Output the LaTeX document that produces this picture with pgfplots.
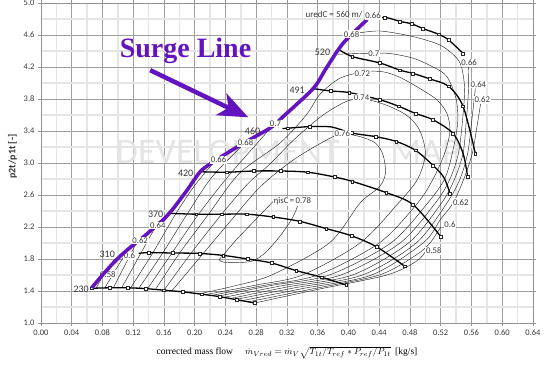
\documentclass[border=0pt]{standalone}
\usepackage{fontspec}
\setmainfont{Carlito}
\newfontfamily\serif{Liberation Serif}
\usepackage{pgfplots}
\pgfplotsset{compat=1.18}
\usetikzlibrary{arrows.meta}
\definecolor{surge}{RGB}{100,20,190}
\definecolor{wm}{RGB}{228,228,228}
\definecolor{txt}{RGB}{55,55,55}
\pgfplotsset{
  contour/.style={black!85, line width=0.45pt, smooth, no marks},
  speed/.style={black, line width=1.3pt, smooth, no marks},
  spm/.style={only marks, mark=square*, mark size=1.4pt, mark options={fill=white, draw=black!85, line width=0.5pt}},
}
\tikzset{
  el/.style={fill=white, inner sep=0.8pt, font=\fontsize{8.7}{9.5}\selectfont, text=txt},
  sl/.style={inner sep=0.5pt, font=\fontsize{10}{11}\selectfont, text=txt},
}
\begin{document}
\begin{tikzpicture}
\begin{axis}[name=ax, scale only axis, width=492pt, height=320pt,
  xmin=0, xmax=0.64, ymin=1, ymax=5,
  xtick={0,0.04,0.08,0.12,0.16,0.20,0.24,0.28,0.32,0.36,0.40,0.44,0.48,0.52,0.56,0.60,0.64},
  ytick={1.0,1.4,1.8,2.2,2.6,3.0,3.4,3.8,4.2,4.6,5.0},
  minor xtick={0.02,0.06,0.10,0.14,0.18,0.22,0.26,0.30,0.34,0.38,0.42,0.46,0.50,0.54,0.58,0.62},
  minor ytick={1.2,1.6,2.0,2.4,2.8,3.2,3.6,4.0,4.4,4.8},
  grid=both,
  major grid style={draw=gray!75, line width=0.6pt},
  minor grid style={draw=gray!20, line width=1.4pt},
  axis line style={draw=gray!85, line width=0.8pt},
  tick style={draw=gray!85, line width=0.6pt},
  tick align=outside, major tick length=3pt, minor tick length=0pt,
  /pgf/number format/assume math mode=true,
  xticklabel style={/pgf/number format/.cd, fixed, fixed zerofill, precision=2, /tikz/.cd, font=\fontsize{8.5}{10}\selectfont, text=txt},
  yticklabel style={/pgf/number format/.cd, fixed, fixed zerofill, precision=1, /tikz/.cd, font=\fontsize{8.5}{10}\selectfont, text=txt},
  xlabel={{\serif corrected mass flow}\hspace{12pt}$\dot{m}_{Vred}=\dot{m}_{V}\sqrt{T_{1t}/T_{ref}\ast P_{ref}/P_{1t}}$\ \ {\serif[kg/s]}},
  xlabel style={font=\fontsize{9.5}{11}\selectfont, text=black, yshift=-4pt},
  ylabel={\bfseries p2t/p1t [-]},
  ylabel style={font=\fontsize{10}{11}\selectfont, text=txt, at={(ticklabel cs:0.52)}},
  clip mode=individual,
]
% watermark
\node[text=wm, font=\fontsize{36}{36}\selectfont, inner sep=0pt] at (axis cs:0.243,3.14) {DEVELOPMENT};
\node[text=wm, font=\fontsize{36}{36}\selectfont, inner sep=0pt] at (axis cs:0.50,3.14) {MAP};

% efficiency contours
\addplot[contour] coordinates {(0.072,1.44) (0.077,1.53) (0.082,1.62)};
\addplot[contour] coordinates {(0.278,1.25) (0.36,1.42) (0.45,1.6) (0.488,1.77) (0.50,1.89)};
\addplot[contour] coordinates {(0.083,1.44) (0.095,1.63) (0.107,1.82) (0.110,1.86)};
\addplot[contour] coordinates {(0.27,1.265) (0.35,1.42) (0.44,1.6) (0.488,1.85) (0.506,2.0) (0.52,2.2)};
\addplot[contour] coordinates {(0.094,1.44) (0.108,1.7) (0.124,2.0)};
\addplot[contour] coordinates {(0.262,1.28) (0.34,1.43) (0.43,1.6) (0.497,2.0) (0.52,2.3) (0.536,2.5) (0.55,2.8) (0.561,3.12) (0.567,3.45) (0.572,3.75)};
\addplot[contour] coordinates {(0.105,1.44) (0.128,1.84) (0.15,2.22)};
\addplot[contour] coordinates {(0.254,1.295) (0.33,1.44) (0.418,1.6) (0.488,2.0) (0.528,2.5) (0.545,2.8) (0.555,3.12) (0.56,3.5) (0.565,3.93)};
\addplot[contour] coordinates {(0.116,1.43) (0.145,1.87) (0.175,2.36) (0.2,2.72) (0.226,3.02)};
\addplot[contour] coordinates {(0.246,1.305) (0.32,1.45) (0.405,1.6) (0.478,2.0) (0.521,2.5) (0.538,2.8) (0.549,3.12) (0.553,3.5) (0.556,3.9) (0.556,4.2)};
\addplot[contour] coordinates {(0.127,1.43) (0.158,1.87) (0.19,2.36) (0.222,2.82) (0.262,3.22)};
\addplot[contour] coordinates {(0.238,1.32) (0.31,1.46) (0.39,1.6) (0.467,2.0) (0.513,2.5) (0.532,2.8) (0.543,3.12) (0.548,3.5) (0.551,3.92) (0.547,4.2) (0.539,4.33) (0.519,4.475) (0.484,4.58) (0.441,4.65) (0.41,4.62)};
\addplot[contour] coordinates {(0.138,1.42) (0.17,1.87) (0.205,2.36) (0.245,2.85) (0.30,3.45)};
\addplot[contour] coordinates {(0.23,1.335) (0.30,1.47) (0.375,1.6) (0.455,2.0) (0.503,2.5) (0.525,2.8) (0.535,3.12) (0.542,3.5) (0.54,3.8) (0.528,4.08) (0.51,4.2) (0.484,4.31) (0.452,4.37) (0.42,4.37) (0.386,4.36)};
\addplot[contour] coordinates {(0.149,1.42) (0.18,1.87) (0.218,2.36) (0.258,2.87) (0.311,3.25) (0.345,3.6) (0.363,3.86) (0.389,4.06) (0.42,4.14) (0.445,4.14) (0.467,4.07) (0.493,3.93) (0.515,3.79) (0.528,3.62) (0.532,3.4) (0.525,3.12) (0.51,2.8) (0.49,2.5) (0.44,2.0) (0.36,1.6) (0.29,1.47) (0.222,1.345)};
\addplot[contour] coordinates {(0.16,1.41) (0.195,1.87) (0.235,2.36) (0.27,2.75) (0.297,2.98) (0.33,3.3) (0.367,3.6) (0.40,3.78) (0.425,3.79) (0.45,3.72) (0.475,3.6) (0.492,3.42) (0.50,3.12) (0.49,2.8) (0.465,2.5) (0.415,2.0) (0.34,1.6) (0.28,1.475) (0.214,1.355)};
\addplot[contour] coordinates {(0.17,1.40) (0.205,1.80) (0.24,2.2) (0.285,2.70) (0.33,3.05) (0.378,3.32) (0.395,3.36) (0.415,3.33) (0.435,3.25) (0.445,3.1) (0.448,2.87) (0.44,2.7) (0.415,2.5) (0.375,2.0) (0.30,1.6) (0.25,1.46) (0.206,1.365)};
\addplot[contour] coordinates {(0.302,2.52) (0.28,2.3) (0.255,2.05) (0.238,1.86) (0.232,1.79) (0.238,1.76) (0.255,1.755) (0.275,1.775) (0.292,1.88) (0.312,2.1) (0.328,2.33) (0.336,2.52)};

% labels under speed lines
\node[el] at (axis cs:0.087,1.61) {0.58};
\node[el] at (axis cs:0.115,1.84) {0.6};
\node[el] at (axis cs:0.511,1.90) {0.58};
\node[el] at (axis cs:0.532,2.23) {0.6};
\node[el] at (axis cs:0.546,2.51) {0.62};
\node[el] at (axis cs:0.557,4.25) {0.66};
\node[el] at (axis cs:0.569,3.98) {0.64};
\node[el] at (axis cs:0.574,3.79) {0.62};
\node[el] at (axis cs:0.418,4.12) {0.72};

% speed lines
\addplot[speed] coordinates {(0.066,1.434) (0.089,1.44) (0.113,1.44) (0.136,1.43) (0.160,1.41) (0.184,1.39) (0.209,1.36) (0.232,1.33) (0.255,1.29) (0.278,1.25)};
\addplot[spm] coordinates {(0.066,1.434) (0.089,1.44) (0.113,1.44) (0.136,1.43) (0.160,1.41) (0.184,1.39) (0.209,1.36) (0.232,1.33) (0.255,1.29) (0.278,1.25)};
\addplot[speed] coordinates {(0.127,1.87) (0.140,1.88) (0.171,1.875) (0.206,1.87) (0.237,1.845) (0.269,1.80) (0.300,1.75) (0.332,1.655) (0.365,1.572) (0.397,1.475)};
\addplot[spm] coordinates {(0.140,1.88) (0.171,1.875) (0.206,1.87) (0.237,1.845) (0.269,1.80) (0.300,1.75) (0.332,1.655) (0.365,1.572) (0.397,1.475)};
\addplot[speed] coordinates {(0.168,2.37) (0.202,2.36) (0.235,2.36) (0.268,2.36) (0.302,2.325) (0.337,2.27) (0.371,2.18) (0.404,2.09) (0.437,1.95) (0.473,1.71)};
\addplot[spm] coordinates {(0.202,2.36) (0.235,2.36) (0.268,2.36) (0.302,2.325) (0.337,2.27) (0.371,2.18) (0.404,2.09) (0.437,1.95) (0.473,1.71)};
\addplot[speed] coordinates {(0.209,2.89) (0.242,2.885) (0.277,2.90) (0.312,2.90) (0.347,2.885) (0.382,2.825) (0.405,2.77) (0.449,2.63) (0.484,2.48) (0.52,2.08)};
\addplot[spm] coordinates {(0.242,2.885) (0.277,2.90) (0.312,2.90) (0.347,2.885) (0.382,2.825) (0.405,2.77) (0.449,2.63) (0.484,2.48) (0.52,2.08)};
\addplot[speed] coordinates {(0.314,3.43) (0.321,3.435) (0.350,3.455) (0.378,3.45) (0.404,3.375) (0.435,3.33) (0.462,3.27) (0.487,3.16) (0.51,2.97) (0.524,2.82) (0.532,2.62)};
\addplot[spm] coordinates {(0.321,3.435) (0.350,3.455) (0.404,3.375) (0.435,3.33) (0.462,3.27) (0.487,3.16) (0.51,2.97) (0.532,2.62)};
\addplot[speed] coordinates {(0.354,3.93) (0.377,3.90) (0.401,3.88) (0.441,3.79) (0.465,3.71) (0.487,3.62) (0.51,3.54) (0.536,3.37) (0.549,3.12) (0.555,2.83)};
\addplot[spm] coordinates {(0.377,3.90) (0.401,3.88) (0.441,3.79) (0.465,3.71) (0.487,3.62) (0.51,3.54) (0.536,3.37) (0.555,2.83)};
\addplot[speed] coordinates {(0.387,4.42) (0.405,4.33) (0.441,4.25) (0.467,4.16) (0.484,4.12) (0.506,4.05) (0.53,3.96) (0.549,3.71) (0.565,3.12)};
\addplot[spm] coordinates {(0.405,4.33) (0.441,4.25) (0.467,4.16) (0.484,4.12) (0.506,4.05) (0.53,3.96) (0.549,3.71) (0.565,3.12)};
\addplot[speed] coordinates {(0.424,4.79) (0.447,4.82) (0.467,4.77) (0.482,4.74) (0.497,4.68) (0.517,4.61) (0.53,4.54) (0.549,4.37)};
\addplot[spm] coordinates {(0.447,4.82) (0.467,4.77) (0.482,4.74) (0.497,4.68) (0.517,4.61) (0.53,4.54) (0.549,4.37)};

% surge line
\addplot[surge, line width=3.6pt, smooth, no marks] coordinates {(0.066,1.44) (0.08,1.60) (0.095,1.76) (0.107,1.87) (0.118,1.96) (0.135,2.09) (0.148,2.2) (0.16,2.30) (0.172,2.43) (0.19,2.66) (0.207,2.89) (0.222,3.0) (0.25,3.17) (0.275,3.31) (0.30,3.45) (0.315,3.58) (0.354,3.93) (0.37,4.17) (0.387,4.42) (0.398,4.55) (0.424,4.79)};

% labels cutting lines
\node[el] at (axis cs:0.129,2.03) {0.62};
\node[el] at (axis cs:0.152,2.22) {0.64};
\node[el] at (axis cs:0.231,3.04) {0.66};
\node[el] at (axis cs:0.266,3.25) {0.68};
\node[el] at (axis cs:0.305,3.49) {0.7};
\node[el] at (axis cs:0.392,3.365) {0.76};
\node[el] at (axis cs:0.417,3.82) {0.74};
\node[el] at (axis cs:0.433,4.37) {0.7};
\node[el] at (axis cs:0.404,4.61) {0.68};
\node[el] at (axis cs:0.432,4.84) {0.66};
\node[el] at (axis cs:0.327,2.52) {ηisC\,=\,0.78};

% speed labels
\node[sl, anchor=east] at (axis cs:0.063,1.42) {230};
\node[sl, anchor=east] at (axis cs:0.097,1.86) {310};
\node[sl, anchor=east] at (axis cs:0.160,2.36) {370};
\node[sl, anchor=east] at (axis cs:0.199,2.87) {420};
\node[sl, anchor=east] at (axis cs:0.286,3.40) {460};
\node[sl, anchor=east] at (axis cs:0.344,3.91) {491};
\node[sl, anchor=east] at (axis cs:0.377,4.39) {520};
\node[sl, anchor=east, font=\fontsize{9}{10}\selectfont] at (axis cs:0.419,4.86) {uredC = 560 m/};

% annotation
\node[text=surge, font=\serif\bfseries\fontsize{28}{30}\selectfont] at (axis cs:0.188,4.40) {Surge Line};
\draw[surge, line width=4.5pt, -{Stealth[length=30pt, width=24pt, inset=8pt]}] (axis cs:0.142,4.16) -- (axis cs:0.2697,3.571);
\end{axis}
\pgfresetboundingbox
\path[use as bounding box] ([shift={(-41pt,-46pt)}]ax.south west) rectangle ([shift={(22pt,3pt)}]ax.north east);
\end{tikzpicture}
\end{document}
